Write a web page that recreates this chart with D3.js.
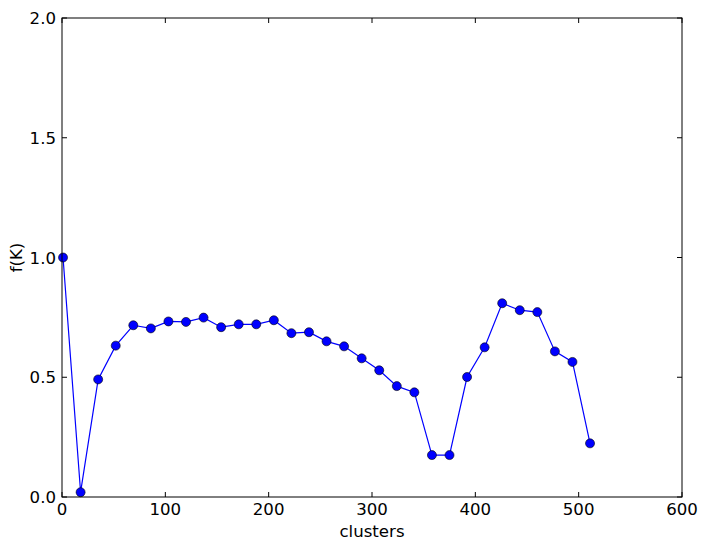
<!DOCTYPE html>
<html><head><meta charset="utf-8">
<script src="https://cdn.jsdelivr.net/npm/d3@7"></script>
<style>body{margin:0;background:#fff}svg{display:block}text{font-family:"DejaVu Sans",sans-serif;fill:#000}</style>
</head><body><svg id="c" width="706" height="550"></svg>
<script>
const clusters = [1,18,35,52,69,86,103,120,137,154,171,188,205,222,239,256,273,290,307,324,341,358,375,392,409,426,443,460,477,494,511];
const fK = [1.0,0.02,0.491,0.632,0.717,0.704,0.733,0.731,0.749,0.709,0.721,0.721,0.738,0.684,0.688,0.650,0.629,0.579,0.529,0.463,0.437,0.175,0.175,0.501,0.625,0.809,0.780,0.772,0.608,0.564,0.224];
const xTicks = [0,100,200,300,400,500,600];
const yTicks = [0.0,0.5,1.0,1.5,2.0];

const svg = d3.select("#c");
const L=62,T=18,R=682,B=497;
const FS = 16.6;
const x = d3.scaleLinear().domain([0,600]).range([L,R]);
const y = d3.scaleLinear().domain([0,2]).range([B,T]);

const tl=5;
const g = svg.append("g");
xTicks.forEach(t=>{
  g.append("line").attr("x1",x(t)).attr("x2",x(t)).attr("y1",B).attr("y2",B-tl).attr("stroke","#000");
  g.append("line").attr("x1",x(t)).attr("x2",x(t)).attr("y1",T).attr("y2",T+tl).attr("stroke","#000");
  g.append("text").attr("x",x(t)).attr("y",B+18).attr("text-anchor","middle").attr("font-size",FS).text(d3.format("d")(t));
});
yTicks.forEach(t=>{
  g.append("line").attr("y1",y(t)).attr("y2",y(t)).attr("x1",L).attr("x2",L+tl).attr("stroke","#000");
  g.append("line").attr("y1",y(t)).attr("y2",y(t)).attr("x1",R).attr("x2",R-tl).attr("stroke","#000");
  g.append("text").attr("x",L-6).attr("y",y(t)+6).attr("text-anchor","end").attr("font-size",FS).text(d3.format(".1f")(t));
});

const data = clusters.map((c,i)=>[c,fK[i]]);
svg.append("path").datum(data).attr("fill","none").attr("stroke","#0000ff").attr("stroke-width",1.2)
  .attr("d",d3.line().x(d=>x(d[0])).y(d=>y(d[1])));
svg.append("g").selectAll("circle").data(data).join("circle")
  .attr("cx",d=>x(d[0])).attr("cy",d=>y(d[1])).attr("r",4.5)
  .attr("fill","#0000ff").attr("stroke","#000").attr("stroke-width",0.6);

svg.append("rect").attr("x",L).attr("y",T).attr("width",R-L).attr("height",B-T).attr("fill","none").attr("stroke","#000").attr("stroke-width",1);

svg.append("text").attr("x",(L+R)/2).attr("y",537).attr("text-anchor","middle").attr("font-size",FS).text("clusters");
svg.append("text").attr("transform",`translate(22,${(T+B)/2}) rotate(-90)`).attr("text-anchor","middle").attr("font-size",FS).text("f(K)");
</script></body></html>
